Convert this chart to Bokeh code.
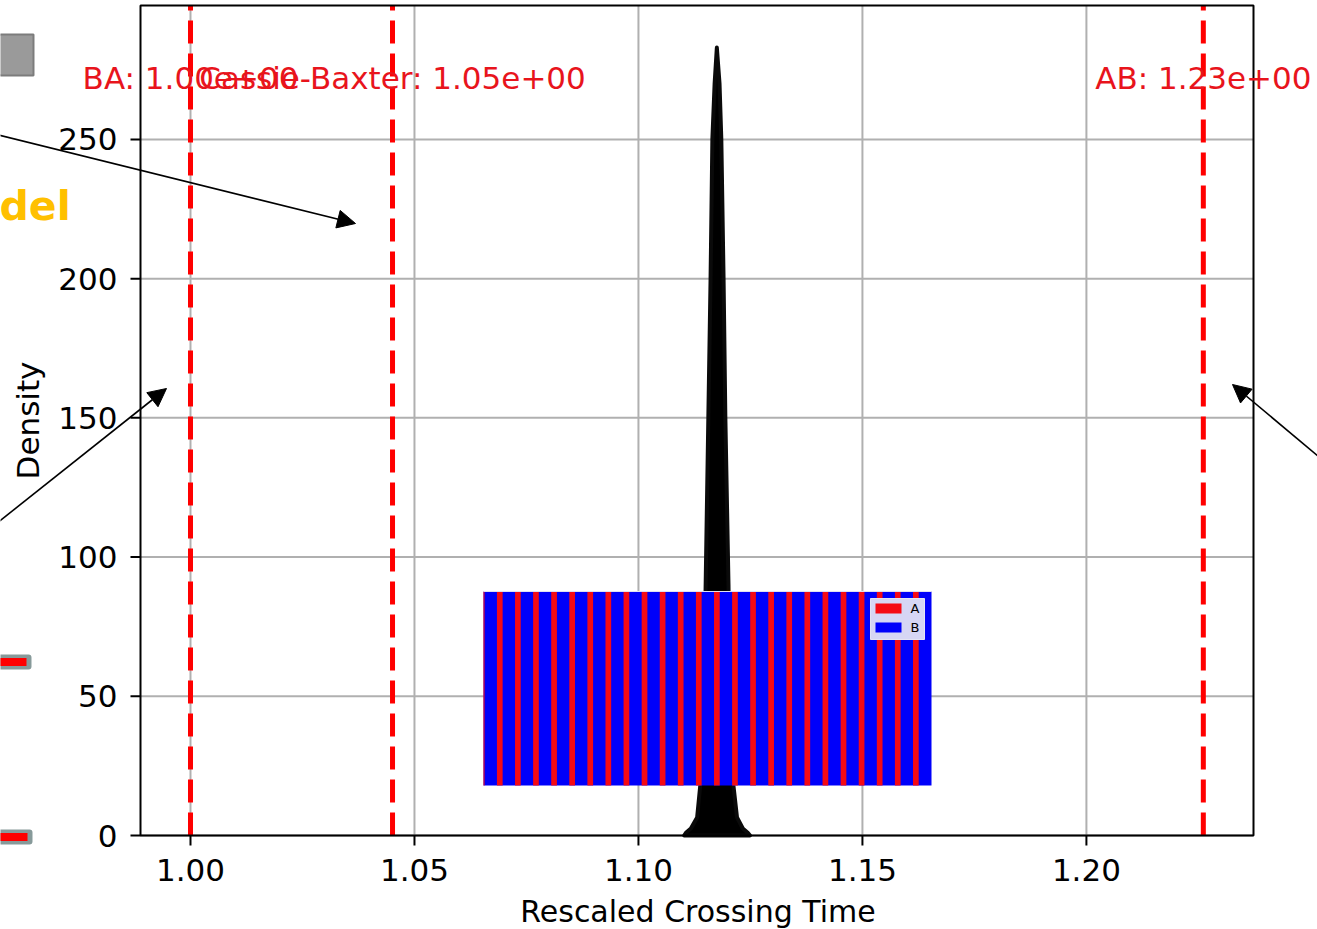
import math
from bokeh.plotting import figure
from bokeh.models import Range1d, Arrow, NormalHead
from bokeh.embed import file_html
from bokeh.resources import INLINE
from bokeh.core.properties import value

# ---------------- data ----------------
density_x = [1.1102, 1.1106, 1.1117, 1.1131, 1.1138, 1.1146, 1.1150, 1.1156, 1.1161,
             1.1165, 1.1170, 1.1175, 1.1181, 1.1185, 1.1190, 1.1194, 1.1201, 1.1204,
             1.1212, 1.1220, 1.1233, 1.1244, 1.1249]
density_y = [0, 1, 2.5, 6.5, 18, 50, 90, 150, 200, 250, 270, 283, 270, 250, 200, 150,
             90, 50, 18, 6.5, 2.5, 1, 0]

ref_names = ["BA", "Cassie-Baxter", "AB"]
ref_values = [1.0000, 1.0451, 1.2261]

x_ticks = [1.00, 1.05, 1.10, 1.15, 1.20]
x_tick_labels = ["1.00", "1.05", "1.10", "1.15", "1.20"]
y_ticks = [0, 50, 100, 150, 200, 250]
y_tick_labels = ["0", "50", "100", "150", "200", "250"]

x_label = "Rescaled Crossing Time"
y_label = "Density"

inset_stripes = list(range(25))          # alternating A (red) / B (blue) stripes
inset_legend = ["A", "B"]
inset_colors = ["#f50a14", "#0000fa"]

# ---------------- layout (page px) ----------------
W, H = 1317, 929
FL, FR, FT, FB = 140, 1253, 5, 835          # axes box on the page
X0, X1 = 0.98884, 1.2373                     # data limits of the axes box
Y0, Y1 = 0.0, 298.1
KX = (X1 - X0) / (FR - FL)                   # data per px
KY = (Y1 - Y0) / (FB - FT)


def dx(px):
    return X0 + (px - FL) * KX


def dy(py):
    return Y0 + (FB - py) * KY


p = figure(width=W, height=H, x_range=Range1d(dx(0), dx(W)), y_range=Range1d(dy(H), dy(0)),
           output_backend="svg", toolbar_location=None, min_border=0)
p.axis.visible = False
p.grid.visible = False
p.outline_line_color = None
p.background_fill_color = "white"
p.border_fill_color = "white"

FONT = value("DejaVu Sans")
GRID = "#b0b0b0"

# grid
p.segment(x0=x_ticks, y0=Y0, x1=x_ticks, y1=Y1, line_color=GRID, line_width=2)
p.segment(x0=X0, y0=y_ticks, x1=X1, y1=y_ticks, line_color=GRID, line_width=2)

# density peak
p.patch(density_x, density_y, fill_color="black", line_color="#0a0a0a",
        line_width=4, line_join="round")

# reference lines
p.segment(x0=ref_values, y0=Y0, x1=ref_values, y1=Y1, line_color="#ff0000",
          line_width=5, line_dash="23 10")

# ---------------- inset (A/B stripes) ----------------
ix0, ix1, iy0, iy1 = dx(483), dx(931), dy(785), dy(591)
p.quad(left=[ix0], right=[ix1], bottom=[iy0], top=[iy1],
       fill_color=inset_colors[1], line_color=None)
step = 18.09 * KX
sw = 5.7 * KX
c0 = dx(481.2)
lefts = [max(c0 + k * step - sw / 2, ix0) for k in inset_stripes]
rights = [min(c0 + k * step + sw / 2, ix1) for k in inset_stripes]
p.quad(left=lefts, right=rights, bottom=iy0, top=iy1,
       fill_color=inset_colors[0], line_color=None)
p.segment(x0=[ix0], y0=[iy1], x1=[ix1], y1=[iy1], line_color="#e0e0f0", line_width=1)
# inset legend
p.quad(left=[dx(870)], right=[dx(924)], bottom=[dy(639)], top=[dy(598)],
       fill_color="#d6d6f4", line_color="#e4e4f4", line_width=1)
leg_y = [dy(608), dy(627)]
p.quad(left=dx(875), right=dx(901), bottom=[v - 5 * KY for v in leg_y],
       top=[v + 5 * KY for v in leg_y], fill_color=inset_colors, line_color=None)
p.text(x=dx(910), y=leg_y, text=inset_legend, text_baseline="middle",
       text_font=FONT, text_font_size="13px", text_color="black")

# ---------------- axes box, ticks, tick labels ----------------
p.quad(left=[X0], right=[X1], bottom=[Y0], top=[Y1], fill_color=None,
       line_color="black", line_width=2)
p.segment(x0=x_ticks, y0=Y0, x1=x_ticks, y1=Y0 - 10 * KY, line_color="black", line_width=2)
p.segment(x0=X0, y0=y_ticks, x1=X0 - 10 * KX, y1=y_ticks, line_color="black", line_width=2)
p.text(x=x_ticks, y=Y0 - 34.5 * KY, text=x_tick_labels, text_align="center",
       text_baseline="middle", text_font=FONT, text_font_size="31px", text_color="black")
p.text(x=X0 - 23 * KX, y=y_ticks, text=y_tick_labels,
       text_align="right", text_baseline="middle", text_font=FONT,
       text_font_size="31px", text_color="black")
p.text(x=[(X0 + X1) / 2 + 1 * KX], y=[dy(911)], text=[x_label], text_align="center",
       text_baseline="middle", text_font=FONT, text_font_size="30px", text_color="black")
p.text(x=[dx(27)], y=[dy(420)], text=[y_label], angle=math.pi / 2, text_align="center",
       text_baseline="middle", text_font=FONT, text_font_size="31px", text_color="black")

# reference labels
p.text(x=ref_values, y=dy(77.5), text=[f"{n}: {v:.2e}" for n, v in zip(ref_names, ref_values)],
       text_align="center", text_baseline="middle", text_font=FONT,
       text_font_size="31px", text_color="#e8141c")

# ---------------- surrounding decorations ----------------
p.quad(left=[dx(-6)], right=[dx(33)], top=[dy(34)], bottom=[dy(75)],
       fill_color="#9a9a9a", line_color="#7c7c7c", line_width=2)
p.text(x=[dx(-1)], y=[dy(205)], text=["del"], text_baseline="middle",
       text_font=FONT, text_font_size="41px", text_font_style="bold",
       text_color="#ffc000")
for yc, xr in ((661.5, 31), (836.5, 32)):
    p.quad(left=[dx(-6)], right=[dx(xr)], top=[dy(yc - 7.5)], bottom=[dy(yc + 7.5)],
           fill_color="#879a9a", line_color=None, border_radius=3)
    p.quad(left=[dx(-6)], right=[dx(xr - 5)], top=[dy(yc - 4)], bottom=[dy(yc + 4)],
           fill_color="#ff0000", line_color=None)

for (xs, ys, xe, ye) in ((-4, 134, 355, 223), (-4, 523, 166, 388), (1330, 466, 1232, 384)):
    p.add_layout(Arrow(end=NormalHead(size=18, fill_color="black", line_color="black"),
                       x_start=dx(xs), y_start=dy(ys), x_end=dx(xe), y_end=dy(ye),
                       line_color="black", line_width=1.6))

open("out.html", "w").write(file_html(p, INLINE))
